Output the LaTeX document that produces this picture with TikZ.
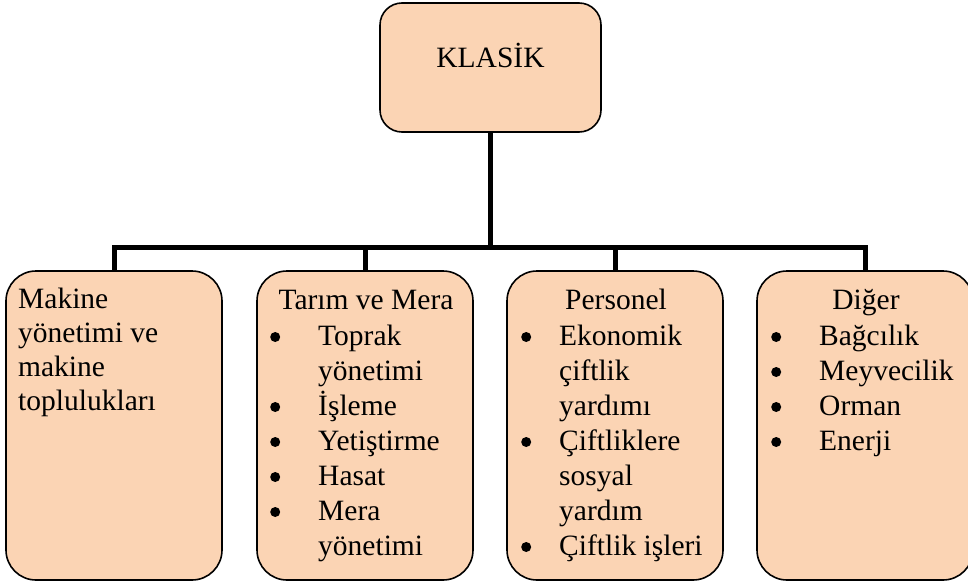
\documentclass[tikz,border=0pt]{standalone}
\usepackage{fontspec}
\setmainfont{LiberationSerif}[Extension=.ttf,UprightFont=*-Regular,BoldFont=*-Bold,ItalicFont=*-Italic,BoldItalicFont=*-BoldItalic]
\definecolor{peach}{HTML}{FBD4B4}
\newcommand\bigbul{\tikz[baseline=-8pt]\fill[black] (0pt,0pt) ++(5pt,0pt) circle[radius=5pt];}
\begin{document}
\begin{tikzpicture}[x=1pt,y=-1pt,
  box/.style={draw=black,line width=1.6pt,fill=peach,rounded corners=#1,inner sep=0pt,minimum width=216pt},
  box/.default=30pt,
  conn/.style={draw=black,line width=5pt},
  txt/.style={inner sep=0pt,font=\fontsize{29.5}{34}\selectfont},
  lst/.style={inner sep=0pt,font=\fontsize{29.5}{35}\selectfont,anchor=base west}]
\useasboundingbox (0,0) rectangle (968,583);
% boxes
\node[box=22pt,minimum width=221pt,minimum height=129pt] (top) at (490.5,67.5) {};
\node[box,minimum height=309pt] (b1) at (114,425.5) {};
\node[box,minimum height=309pt] (b2) at (365,425.5) {};
\node[box,minimum height=309pt] (b3) at (615,425.5) {};
\node[box,minimum height=309pt] (b4) at (865,425.5) {};
% connectors
\coordinate (j) at (490.5,247);
\draw[conn] (top.south) -- (j);
\draw[conn] (b1.north) |- (j) -| (b4.north);
\draw[conn] (b2.north) -- (b2.north |- j);
\draw[conn] (b3.north) -- (b3.north |- j);
% texts
\node[txt,anchor=base] (t0) at (490.5,68) {KLASİK};
\node[txt,anchor=base west] (t1) at (18,308)
  {\begin{tabular}[t]{@{}l@{}}Makine\\yönetimi ve\\makine\\toplulukları\end{tabular}};
\node[txt,anchor=base] (h2) at (366,309) {Tarım ve Mera};
\node[lst] (l2) at (270,345) {\begin{tabular}[t]{@{}p{48pt}@{}l@{}}
\bigbul&Toprak\\&yönetimi\\\bigbul&İşleme\\\bigbul&Yetiştirme\\\bigbul&Hasat\\\bigbul&Mera\\&yönetimi\end{tabular}};
\node[txt,anchor=base] (h3) at (616,309) {Personel};
\node[lst] (l3) at (521,345) {\begin{tabular}[t]{@{}p{38pt}@{}l@{}}
\bigbul&Ekonomik\\&çiftlik\\&yardımı\\\bigbul&Çiftliklere\\&sosyal\\&yardım\\\bigbul&Çiftlik işleri\end{tabular}};
\node[txt,anchor=base] (h4) at (866,309) {Diğer};
\node[lst] (l4) at (771,345) {\begin{tabular}[t]{@{}p{48pt}@{}l@{}}
\bigbul&Bağcılık\\\bigbul&Meyvecilik\\\bigbul&Orman\\\bigbul&Enerji\end{tabular}};
\end{tikzpicture}
\end{document}
